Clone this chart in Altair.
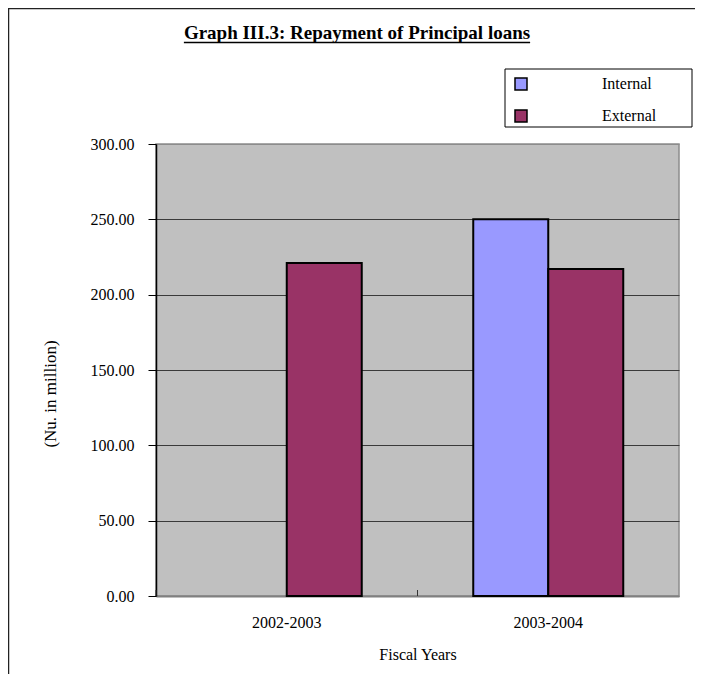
import altair as alt
import pandas as pd

# ---------------- data ----------------
categories = ["2002-2003", "2003-2004"]
series = ["Internal", "External"]
internal = [None, 250.0]
external = [221.0, 217.0]
colors = ["#9999FF", "#993366"]
y_ticks = [0, 50, 100, 150, 200, 250, 300]
title_text = ["Graph III.3: Repayment of Principal loans"]
x_title = "Fiscal Years"
y_title = "(Nu. in million)"

rows = []
for i, c in enumerate(categories):
    for s, vals in zip(series, [internal, external]):
        if vals[i] is not None:
            rows.append({"year": c, "series": s, "value": vals[i]})
df = pd.DataFrame(rows)

# ---------------- layout ----------------
W, H = 523, 452
PAD = {"left": 148, "top": 136, "right": 16, "bottom": 78}
FONT = "Liberation Serif"
TITLE_SIZE = 19
TITLE_X = 201
TITLE_HALF = 18.223 * TITLE_SIZE / 2  # Times-Bold advance width of the title (em) / 2

x_scale = alt.Scale(domain=categories, paddingInner=0, paddingOuter=0)
x_axis = alt.Axis(
    title=x_title, labelAngle=0, ticks=False, tickSize=0, labelPadding=31,
    labelBaseline="alphabetic", labelFontSize=16, domainColor="#808080",
    domainWidth=2, titleX=W / 2, titleY=63, titleBaseline="alphabetic",
    titleFontSize=16, grid=False,
)
y_axis = alt.Axis(
    values=y_ticks, format=".2f", title=y_title, grid=True,
    gridColor={"condition": {"test": "datum.value === 0 || datum.value === 300",
                             "value": "#8c8c8c"}, "value": "#3a3a3a"},
    gridWidth=1, domainColor="black", domainWidth=1.5, tickColor="black",
    tickSize=8, labelPadding=14, labelFontSize=16, titleFontSize=17,
    titleX=-106, titleY=249.5, titleAngle=270, titleAlign="center",
    titleBaseline="middle",
)

one = pd.DataFrame({"k": [0]})

frame_left = alt.Chart(one).mark_rule(color="#222222", strokeWidth=1.5).encode(
    x=alt.value(-147.5), y=alt.value(-PAD["top"]), y2=alt.value(H + PAD["bottom"]))
frame_top = alt.Chart(one).mark_rule(color="#222222", strokeWidth=1.5).encode(
    x=alt.value(-PAD["left"]), x2=alt.value(W + PAD["right"]), y=alt.value(-135.5))

title = alt.Chart(pd.DataFrame({"t": title_text})).mark_text(
    font=FONT, fontSize=TITLE_SIZE, fontWeight="bold", align="center",
    baseline="alphabetic", color="black").encode(
    x=alt.value(TITLE_X), y=alt.value(-105), text="t:N")
underline = alt.Chart(one).mark_rule(color="black", strokeWidth=1.5).encode(
    x=alt.value(TITLE_X - TITLE_HALF), x2=alt.value(TITLE_X + TITLE_HALF),
    y=alt.value(-101.5))

legend_box = alt.Chart(one).mark_rect(fill="white", stroke="black", strokeWidth=1).encode(
    x=alt.value(349), x2=alt.value(536), y=alt.value(-75), y2=alt.value(-17))

bars = alt.Chart(df).mark_bar(stroke="black", strokeWidth=2).encode(
    x=alt.X("year:N", scale=x_scale, axis=x_axis, sort=categories),
    xOffset=alt.XOffset("series:N", sort=series,
                        scale=alt.Scale(domain=series, paddingOuter=0.7433, paddingInner=0)),
    y=alt.Y("value:Q", scale=alt.Scale(domain=[0, 300], nice=False), axis=y_axis),
    color=alt.Color("series:N", scale=alt.Scale(domain=series, range=colors),
                    legend=alt.Legend(
                        title=None, orient="none", legendX=349, legendY=-76,
                        padding=8, symbolType="square", symbolSize=144,
                        symbolStrokeColor="black", symbolStrokeWidth=1.5,
                        symbolOpacity=1, labelOffset=73, labelFont=FONT,
                        labelFontSize=16, labelColor="black", rowPadding=14)),
)

cat_ticks = alt.Chart(pd.DataFrame({"year": categories})).mark_rule(
    color="#333333", strokeWidth=1).encode(
    x=alt.X("year:N", bandPosition=0, scale=x_scale, axis=x_axis, sort=categories),
    y=alt.value(H), y2=alt.value(H - 6))

chart = alt.layer(frame_left, frame_top, title, underline, legend_box, bars, cat_ticks).properties(
    width=W, height=H,
    autosize=alt.AutoSizeParams(type="none"),
    padding=PAD,
).configure_view(
    fill="#C0C0C0", stroke="#8c8c8c", strokeWidth=1.5,
).configure_axis(
    labelFont=FONT, titleFont=FONT, labelColor="black", titleColor="black",
    titleFontWeight="normal",
)

chart.save("out.html", embed_options={"renderer": "svg", "actions": False})
